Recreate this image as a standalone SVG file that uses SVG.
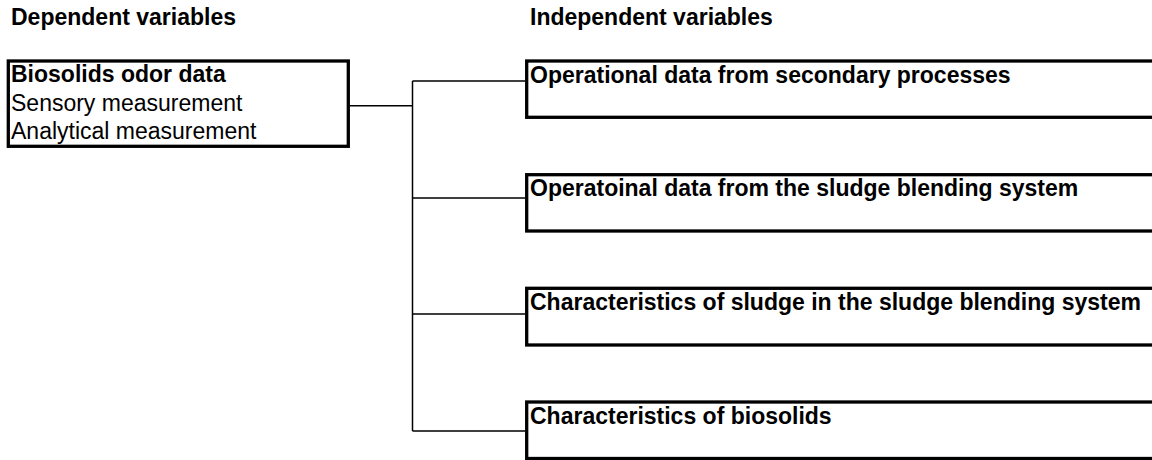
<svg xmlns="http://www.w3.org/2000/svg" width="1152" height="460" viewBox="0 0 1152 460">
<style>
.box{fill:#fff;stroke:#000;stroke-width:3.3}
.conn{fill:none;stroke:#000;stroke-width:1.5}
.t{font-family:"Liberation Sans",Arial,sans-serif;font-size:23px;fill:#000}
.b{font-weight:bold}
</style>
<rect width="1152" height="460" fill="#fff"/>
<g id="headers">
<text class="t b" x="11" y="25">Dependent variables</text>
<text class="t b" x="530" y="25">Independent variables</text>
</g>
<g id="connectors">
<path class="conn" d="M350 105.7H412.5M412.5 81V431M412.5 81H525M412.5 198H525M412.5 314H525M412.5 431H525"/>
</g>
<g id="node-dependent">
<rect class="box" x="8.3" y="61" width="340" height="85.3"/>
<text class="t b" x="11" y="82">Biosolids odor data</text>
<text class="t" x="11" y="111">Sensory measurement</text>
<text class="t" x="11" y="139">Analytical measurement</text>
</g>
<g id="node-secondary">
<rect class="box" x="526.7" y="61" width="700" height="56.3"/>
<text class="t b" x="530" y="83">Operational data from secondary processes</text>
</g>
<g id="node-blending">
<rect class="box" x="526.7" y="174.7" width="700" height="56.3"/>
<text class="t b" x="530" y="196">Operatoinal data from the sludge blending system</text>
</g>
<g id="node-sludge">
<rect class="box" x="526.7" y="288.3" width="700" height="56.7"/>
<text class="t b" x="530" y="310">Characteristics of sludge in the sludge blending system</text>
</g>
<g id="node-biosolids">
<rect class="box" x="526.7" y="402" width="700" height="56.5"/>
<text class="t b" x="530" y="424">Characteristics of biosolids</text>
</g>
</svg>
